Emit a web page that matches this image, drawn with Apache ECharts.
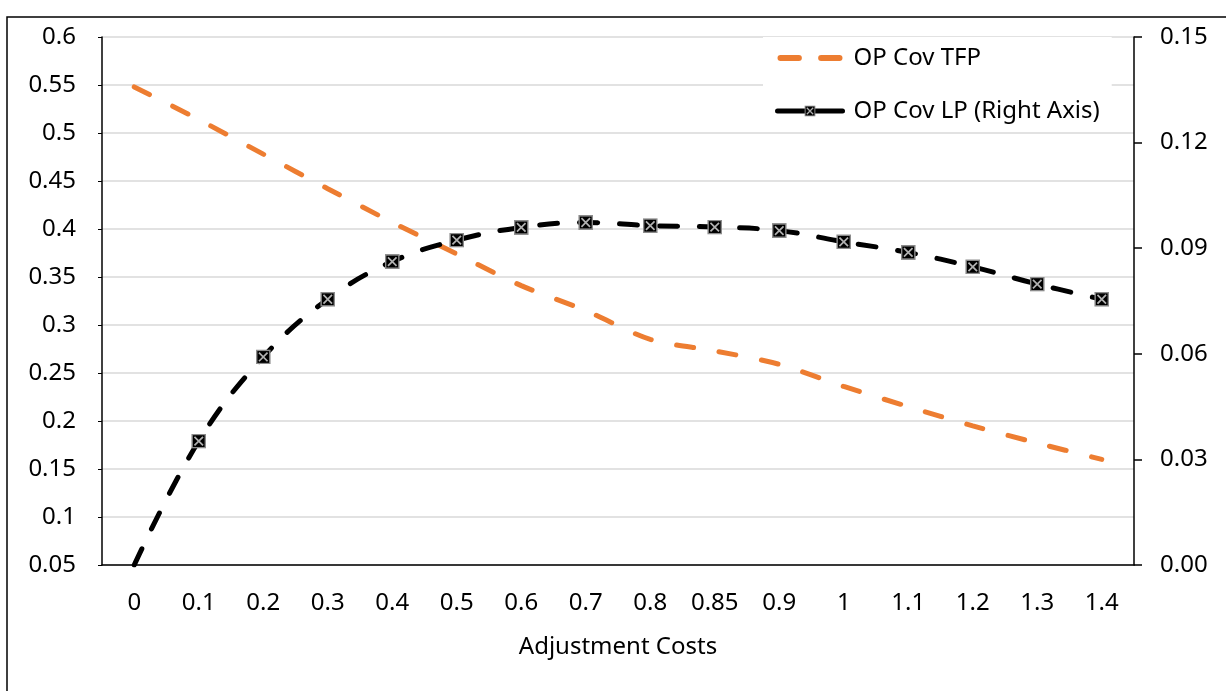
<!DOCTYPE html>
<html>
<head>
<meta charset="utf-8">
<script src="https://cdn.jsdelivr.net/npm/echarts@6/dist/echarts.min.js"></script>
<style>html,body{margin:0;padding:0;background:#fff;}#c{width:1226px;height:691px;}</style>
</head>
<body>
<div id="c"></div>
<script>
var categories = ['0','0.1','0.2','0.3','0.4','0.5','0.6','0.7','0.8','0.85','0.9','1','1.1','1.2','1.3','1.4'];
var opCovTFP = [0.548,0.514,0.478,0.442,0.407,0.374,0.341,0.315,0.285,0.273,0.259,0.236,0.215,0.195,0.177,0.160];
var opCovLP = [0.000,0.0352,0.0591,0.0755,0.0862,0.0923,0.0959,0.0973,0.0964,0.0960,0.0950,0.0918,0.0888,0.0847,0.0798,0.0755];
var leftTicks = {min:0.05, max:0.6, interval:0.05};
var rightTicks = {min:0, max:0.15, interval:0.03};

var svg = '<svg xmlns="http://www.w3.org/2000/svg" width="14" height="14" viewBox="0 0 14 14">' +
  '<rect x="0.75" y="0.75" width="12.5" height="12.5" fill="#000" stroke="#8c8c8c" stroke-width="1.5"/>' +
  '<path d="M3 3 L11 11 M11 3 L3 11" stroke="#b0b0b0" stroke-width="1.6"/></svg>';
var markerImg = 'image://data:image/svg+xml;utf8,' + encodeURIComponent(svg);
var dashIcon = 'path://M3,0 h18 a3,3 0 0 1 0,6 h-18 a3,3 0 0 1 0,-6z M43,0 h18 a3,3 0 0 1 0,6 h-18 a3,3 0 0 1 0,-6z';

var font = 'Noto Sans';
var fs = 24;
var chart = echarts.init(document.getElementById('c'), null, {renderer:'canvas'});
chart.setOption({
  animation:false,
  backgroundColor:'#fff',
  textStyle:{fontFamily:font},
  graphic:[{type:'rect', z:-10, shape:{x:7,y:17,width:1240,height:700}, style:{fill:'#fff', stroke:'#000', lineWidth:1.5}}],
  grid:{left:102, right:92, top:37, bottom:126},
  legend:{
    orient:'vertical', left:763, top:37, backgroundColor:'#fff',
    padding:[9,12,9,12], itemGap:29, itemWidth:65, itemHeight:14,
    textStyle:{fontFamily:font, fontSize:fs, color:'#000', padding:[0,0,0,6]},
    data:[
      {name:'OP Cov TFP', icon:dashIcon, itemStyle:{color:'#ed7d31'}},
      {name:'OP Cov LP (Right Axis)', lineStyle:{width:5, type:'solid', color:'#000'}}
    ]
  },
  xAxis:{
    type:'category', data:categories, boundaryGap:true,
    axisLine:{lineStyle:{color:'#000', width:1.5}}, axisTick:{show:false},
    axisLabel:{color:'#000', fontSize:fs, margin:26, fontFamily:font, interval:0},
    name:'Adjustment Costs', nameLocation:'middle', nameGap:70,
    nameTextStyle:{color:'#000', fontSize:fs, fontFamily:font}
  },
  yAxis:[{
    type:'value', position:'left', min:leftTicks.min, max:leftTicks.max, interval:leftTicks.interval,
    axisLine:{show:true, lineStyle:{color:'#000', width:1.5}},
    axisTick:{show:true, length:4, lineStyle:{color:'#000'}},
    splitLine:{show:true, lineStyle:{color:'#d9d9d9', width:1.5}},
    axisLabel:{color:'#000', fontSize:fs, margin:26, fontFamily:font,
      formatter:function(v){return String(Number(v.toFixed(2)));}}
  },{
    type:'value', position:'right', min:rightTicks.min, max:rightTicks.max, interval:rightTicks.interval,
    axisLine:{show:true, lineStyle:{color:'#000', width:1.5}},
    axisTick:{show:true, length:8, lineStyle:{color:'#000', width:1.5}},
    splitLine:{show:false},
    axisLabel:{color:'#000', fontSize:fs, margin:26, fontFamily:font,
      formatter:function(v){return v.toFixed(2);}}
  }],
  series:[{
    name:'OP Cov TFP', type:'line', yAxisIndex:0, data:opCovTFP, smooth:0.3,
    symbol:'none', color:'#ed7d31',
    lineStyle:{color:'#ed7d31', width:5, type:[17,26], cap:'round'}
  },{
    name:'OP Cov LP (Right Axis)', type:'line', yAxisIndex:1, data:opCovLP, smooth:0.4,
    symbol:markerImg, symbolSize:function(v, p){return p.dataIndex===0?0:15;}, showAllSymbol:true,
    color:'#000',
    lineStyle:{color:'#000', width:5, type:[18,22], cap:'round'}
  }]
});
</script>
</body>
</html>
